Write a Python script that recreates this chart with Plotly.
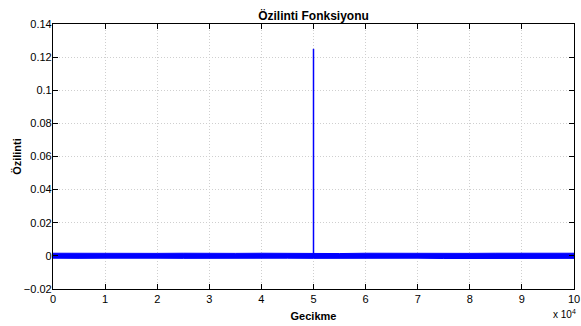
import plotly.graph_objects as go

# Envelope of the noise band (lag, upper, lower)
env_lag = [0, 5000, 10000, 15000, 20000, 25000, 30000, 35000, 40000, 45000, 49990,
           50010, 55000, 60000, 65000, 70000, 75000, 80000, 85000, 90000, 95000, 100000]
env_upper = [0.0016, 0.0015, 0.0014, 0.0016, 0.0015, 0.0016, 0.0014, 0.0015, 0.0016, 0.0014, 0.0015,
             0.0015, 0.0014, 0.0016, 0.0015, 0.0014, 0.0016, 0.0015, 0.0016, 0.0015, 0.0014, 0.0016]
env_lower = [-0.0014, -0.0015, -0.0014, -0.0016, -0.0014, -0.0015, -0.0014, -0.0016, -0.0015, -0.0014, -0.0015,
             -0.0015, -0.0014, -0.0016, -0.0015, -0.0014, -0.0016, -0.0015, -0.0015, -0.0014, -0.0016, -0.0015]

# Peak of the autocorrelation
peak_lag = [50000, 50000]
peak_val = [0.0, 0.125]

x_tickvals = [0, 10000, 20000, 30000, 40000, 50000, 60000, 70000, 80000, 90000, 100000]
x_ticktext = ["0", "1", "2", "3", "4", "5", "6", "7", "8", "9", "10"]
y_tickvals = [-0.02, 0, 0.02, 0.04, 0.06, 0.08, 0.1, 0.12, 0.14]
y_ticktext = ["\u22120.02", "0", "0.02", "0.04", "0.06", "0.08", "0.1", "0.12", "0.14"]

BLUE = "#0000ff"
FONT = "Liberation Sans, Arial, Helvetica, sans-serif"

fig = go.Figure()
fig.add_trace(go.Scatter(
    x=env_lag + env_lag[::-1],
    y=env_upper + env_lower[::-1],
    fill="toself", fillcolor=BLUE, mode="lines",
    line=dict(color=BLUE, width=1), hoverinfo="skip", showlegend=False))
fig.add_trace(go.Scatter(
    x=peak_lag, y=peak_val, mode="lines",
    line=dict(color=BLUE, width=1.5), showlegend=False))

axis_common = dict(
    showline=True, linecolor="black", linewidth=1.2, mirror="ticks",
    ticks="inside", ticklen=5, tickcolor="black", tickwidth=1,
    showgrid=True, gridcolor="#cfcfcf", griddash="1px,2px", gridwidth=1,
    zeroline=False, automargin=False,
    tickfont=dict(family=FONT, size=11, color="black"),
)

fig.update_xaxes(range=[0, 100000], tickvals=x_tickvals, ticktext=x_ticktext,
                 title=dict(text="<b>Gecikme</b>", font=dict(family=FONT, size=11, color="black"), standoff=8),
                 **axis_common)
fig.update_yaxes(range=[-0.02, 0.14], tickvals=y_tickvals, ticktext=y_ticktext,
                 ticklabelstandoff=-2,
                 title=dict(text="<b>Özilinti</b>", font=dict(family=FONT, size=11, color="black"), standoff=0),
                 **axis_common)

fig.add_annotation(text="x 10<sup>4</sup>", xref="paper", yref="paper", x=1.0, y=0,
                   xanchor="right", yanchor="top", yshift=-17, xshift=4, showarrow=False,
                   font=dict(family=FONT, size=10, color="black"))

fig.update_layout(
    width=581, height=326,
    margin=dict(l=53, r=7, t=24, b=37, autoexpand=False),
    paper_bgcolor="white", plot_bgcolor="white",
    title=dict(text="<b>Özilinti Fonksiyonu</b>", x=0.5, xref="paper", xanchor="center",
               y=1, yref="paper", yanchor="bottom", pad=dict(b=4), automargin=False,
               font=dict(family=FONT, size=12, color="black")),
)

fig.write_html("out.html", config={"displayModeBar": False},
               post_script="document.body.style.margin='0px';document.body.style.overflow='hidden';")
